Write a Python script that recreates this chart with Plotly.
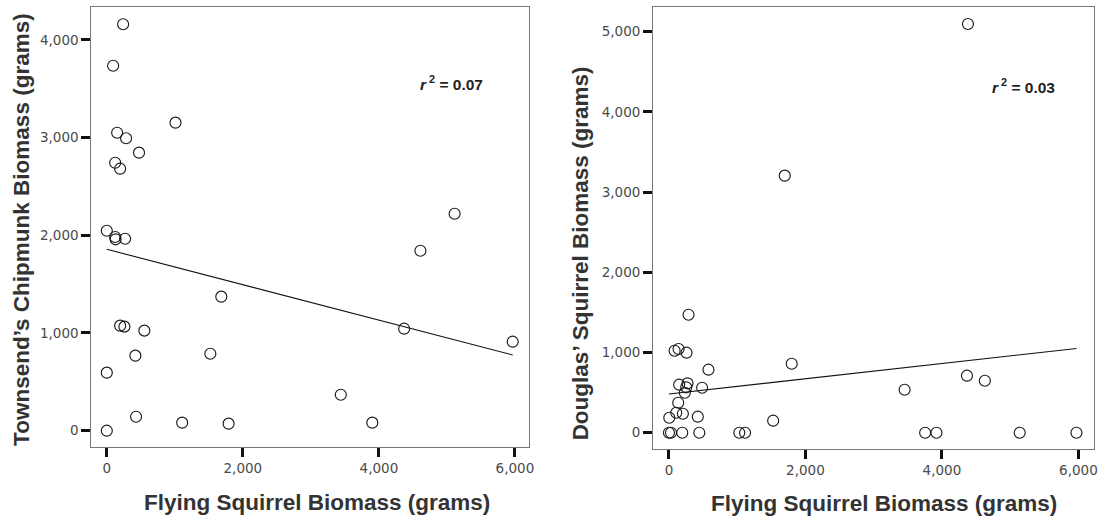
import plotly.graph_objects as go

# ---- data ----
chip_x = [240, 93, 1010, 152, 283, 474, 123, 196, 5113, 0, 123, 130, 269, 4610, 1683,
          196, 259, 552, 4371, 5967, 420, 1522, 0, 3440, 430, 1108, 1791, 3903, 0]
chip_y = [4160, 3736, 3153, 3050, 2993, 2846, 2743, 2682, 2221, 2047, 1983, 1959, 1965, 1842, 1372,
          1075, 1065, 1024, 1044, 911, 768, 788, 594, 368, 143, 82, 72, 82, 0]

doug_x = [4381, 1697, 287, 83, 141, 258, 579, 1799, 150, 272, 253, 486, 233, 136, 107, 204, 5,
          423, 1527, 3453, 4367, 4629, 0, 30, 195, 445, 1031, 1115, 3754, 3920, 5140, 5971]
doug_y = [5096, 3205, 1471, 1022, 1044, 998, 786, 860, 599, 616, 566, 561, 499, 374, 249, 237, 187,
          200, 150, 536, 711, 648, 0, 0, 0, 0, 0, 0, 0, 0, 0, 0]

chip_fit_intercept = 1857
chip_fit_slope = -0.1813
doug_fit_intercept = 483
doug_fit_slope = 0.0951

chip_r2 = "0.07"
doug_r2 = "0.03"

x_ticks = [0, 2000, 4000, 6000]
chip_y_ticks = [0, 1000, 2000, 3000, 4000]
doug_y_ticks = [0, 1000, 2000, 3000, 4000, 5000]

x_title = "Flying Squirrel Biomass (grams)"
chip_title = "Townsend’s Chipmunk Biomass (grams)"
doug_title = "Douglas’ Squirrel Biomass (grams)"

# ---- figure ----
W, H = 1110, 518
FONT = "Arial, Liberation Sans, sans-serif"

fig = go.Figure()

marker = dict(symbol="circle-open", size=11, color="#1a1a1a", line=dict(width=1.15, color="#1a1a1a"))

fig.add_trace(go.Scatter(x=chip_x, y=chip_y, mode="markers", marker=marker,
                         xaxis="x", yaxis="y", showlegend=False))
cx = [min(chip_x), max(chip_x)]
fig.add_trace(go.Scatter(x=cx, y=[chip_fit_intercept + chip_fit_slope * v for v in cx],
                         mode="lines", line=dict(color="#111", width=1.1),
                         xaxis="x", yaxis="y", showlegend=False))

fig.add_trace(go.Scatter(x=doug_x, y=doug_y, mode="markers", marker=marker,
                         xaxis="x2", yaxis="y2", showlegend=False))
dx = [min(doug_x), max(doug_x)]
fig.add_trace(go.Scatter(x=dx, y=[doug_fit_intercept + doug_fit_slope * v for v in dx],
                         mode="lines", line=dict(color="#111", width=1.1),
                         xaxis="x2", yaxis="y2", showlegend=False))

tickfont = dict(family="DejaVu Sans, sans-serif", size=13.5, color="#4a4a4a")
common = dict(showgrid=False, zeroline=False, showline=True, linecolor="#777", linewidth=1,
              mirror=True, ticks="outside", ticklen=9, tickwidth=2.5, tickcolor="#111",
              tickfont=tickfont, tickformat=",d")

fig.update_layout(
    width=W, height=H,
    margin=dict(l=0, r=0, t=0, b=0),
    paper_bgcolor="white", plot_bgcolor="white",
    xaxis=dict(domain=[91.7 / W, 531.7 / W], range=[-228, 6211], tickvals=x_ticks,
               anchor="y", **common),
    yaxis=dict(domain=[1 - 446.7 / H, 1 - 7 / H], range=[-164, 4337], tickvals=chip_y_ticks,
               anchor="x", **common),
    xaxis2=dict(domain=[656 / W, 1099 / W], range=[-233, 6229], tickvals=x_ticks,
                anchor="y2", **common),
    yaxis2=dict(domain=[1 - 449 / H, 1 - 7 / H], range=[-203, 5308], tickvals=doug_y_ticks,
                anchor="x2", **common),
)

title_font = dict(family=FONT, size=22.5, color="#333")
ann = [
    dict(text=f"<b>{x_title}</b>", x=318 / W, y=1 - 502 / H, xref="paper", yref="paper",
         showarrow=False, font=title_font, xanchor="center", yanchor="middle"),
    dict(text=f"<b>{x_title}</b>", x=888 / W, y=1 - 503 / H, xref="paper", yref="paper",
         showarrow=False, font=title_font, xanchor="center", yanchor="middle"),
    dict(text=f"<b>{chip_title}</b>", x=21 / W, y=1 - 229 / H, xref="paper", yref="paper",
         showarrow=False, font=title_font, textangle=-90, xanchor="center", yanchor="middle"),
    dict(text=f"<b>{doug_title}</b>", x=583 / W, y=1 - 253 / H, xref="paper", yref="paper",
         showarrow=False, font=title_font, textangle=-90, xanchor="center", yanchor="middle"),
    dict(text=f"<b><i>r</i><sup> 2</sup> = {chip_r2}</b>", x=5074, y=3559, xref="x", yref="y",
         showarrow=False, font=dict(family=FONT, size=15.5, color="#222")),
    dict(text=f"<b><i>r</i><sup> 2</sup> = {doug_r2}</b>", x=5193, y=4323, xref="x2", yref="y2",
         showarrow=False, font=dict(family=FONT, size=15.5, color="#222")),
]
fig.update_layout(annotations=ann)

fig.write_html("out.html", config={"displayModeBar": False},
               post_script="document.body.style.margin='0';document.body.style.overflow='hidden';")
